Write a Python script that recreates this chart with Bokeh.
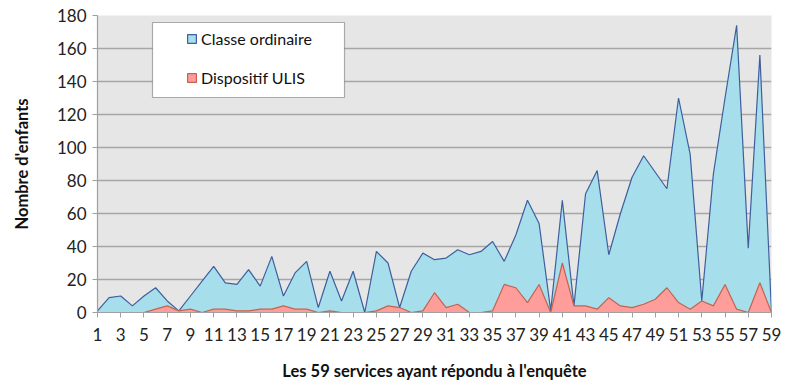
from bokeh.plotting import figure
from bokeh.models import FixedTicker, Legend, LegendItem, BoxAnnotation, Range1d
from bokeh.embed import file_html
from bokeh.resources import INLINE

services = list(range(1, 60))
classe_ordinaire = [1, 9, 10, 4, 10, 15, 7, 1, 10, 19,
                    28, 18, 17, 26, 16, 34, 10, 24, 31, 3,
                    25, 7, 25, 0, 37, 30, 3, 25, 36, 32,
                    33, 38, 35, 37, 43, 31, 47, 68, 54, 1,
                    68, 4, 72, 86, 35, 60, 82, 95, 85, 75,
                    130, 96, 7, 84, 130, 174, 39, 156, 0]
dispositif_ulis = [0, 0, 0, 0, 0, 2, 4, 1, 2, 0,
                   2, 2, 1, 1, 2, 2, 4, 2, 2, 0,
                   1, 0, 0, 0, 1, 4, 3, 0, 1, 12,
                   3, 5, 0, 0, 1, 17, 15, 6, 17, 0,
                   30, 4, 4, 2, 9, 4, 3, 5, 8, 15,
                   6, 2, 7, 4, 17, 2, 0, 18, 0]
x_ticks = list(range(1, 60, 2))
y_ticks = list(range(0, 181, 20))

FONT = "Lato"

p = figure(width=790, height=385, output_backend="svg", toolbar_location=None,
           x_range=Range1d(1, 59), y_range=Range1d(0, 180),
           min_border_left=97, min_border_right=19, min_border_top=15, min_border_bottom=73)
p.background_fill_color = "#e6e6e6"
p.border_fill_color = "white"
p.outline_line_color = None

# areas as closed patches on the baseline
px = services + [services[-1], services[0]]
blue = p.patch(px, classe_ordinaire + [0, 0], fill_color="#a6dfeb", line_color="#3f5e9e", line_width=1.2)
pink = p.patch(px, dispositif_ulis + [0, 0], fill_color="#ff9d9a", line_color="#c2644e", line_width=1.2)

# axes
p.xaxis.ticker = FixedTicker(ticks=x_ticks)
p.yaxis.ticker = FixedTicker(ticks=y_ticks)
for ax in (p.xaxis[0], p.yaxis[0]):
    ax.axis_line_color = "#a0a0a0"
    ax.axis_line_width = 1.2
    ax.major_tick_line_color = "#a0a0a0"
    ax.minor_tick_line_color = None
    ax.major_tick_in = 0
    ax.major_tick_out = 5
    ax.major_label_text_font = FONT
    ax.major_label_text_font_size = "17px"
    ax.major_label_text_color = "#222222"
    ax.axis_label_text_font = FONT
    ax.axis_label_text_font_style = "bold"
    ax.axis_label_text_color = "#111111"
p.xaxis.axis_label = "Les 59 services ayant répondu à l'enquête"
p.yaxis.axis_label = "Nombre d'enfants"
p.xaxis.axis_label_text_font_size = "16.5px"
p.yaxis.axis_label_text_font_size = "16.5px"
p.xaxis.major_label_standoff = 10
p.xaxis.axis_label_standoff = 17
p.yaxis.major_label_standoff = 6
p.yaxis.axis_label_standoff = 22

p.xgrid.grid_line_color = None
p.ygrid.grid_line_color = "#a6a6a6"
p.ygrid.grid_line_width = 1.5

# legend frame (screen units measured from the frame's bottom-left)
frame_box = BoxAnnotation(left=55, right=247, top=290, bottom=215,
                          left_units="screen", right_units="screen",
                          top_units="screen", bottom_units="screen",
                          fill_color="white", fill_alpha=1.0,
                          line_color="black", line_width=1.2)
p.add_layout(frame_box)

legend = Legend(items=[LegendItem(label="Classe ordinaire", renderers=[blue]),
                       LegendItem(label="Dispositif ULIS", renderers=[pink])],
                location=(89, 225), padding=0, margin=0, spacing=20,
                glyph_width=11, glyph_height=11, label_standoff=4,
                label_text_font=FONT, label_text_font_size="16px",
                label_text_color="#111111",
                border_line_color=None, background_fill_alpha=0)
p.add_layout(legend, "center")

open("out.html", "w").write(file_html(p, INLINE))
